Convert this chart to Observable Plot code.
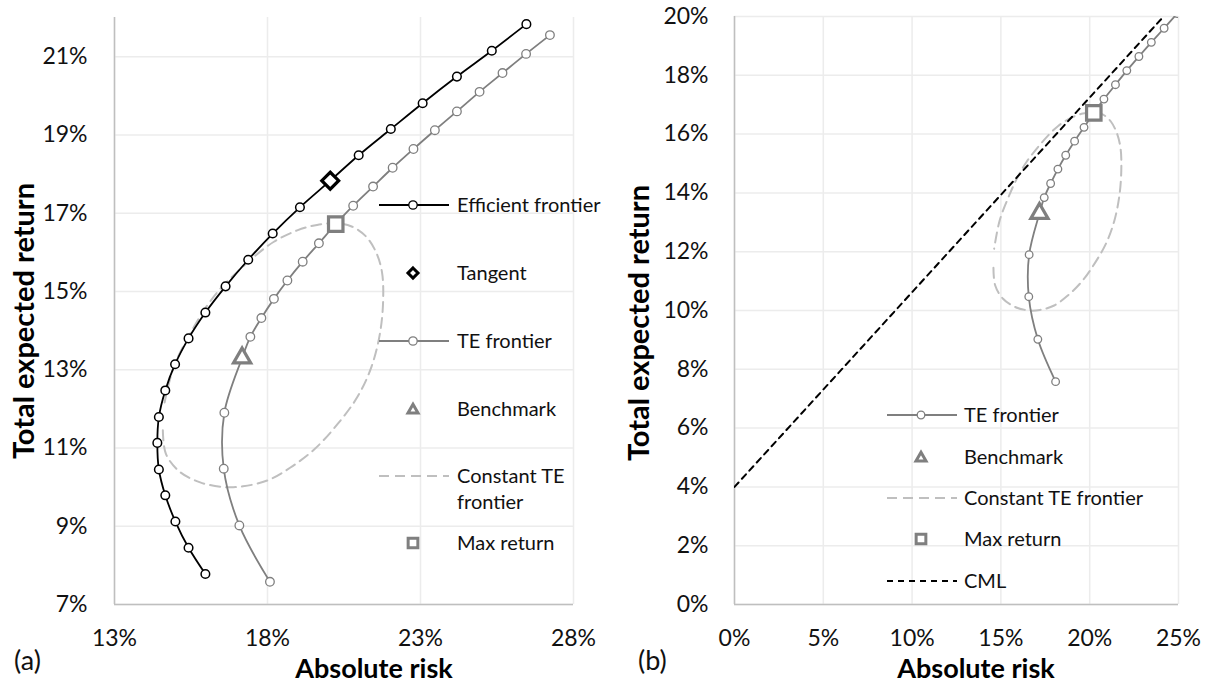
<!DOCTYPE html>
<html><head><meta charset="utf-8">
<script src="https://cdn.jsdelivr.net/npm/d3@7"></script>
<script src="https://cdn.jsdelivr.net/npm/@observablehq/plot@0.6"></script>
<style>
body{margin:0;background:#fff;}
#wrap{position:relative;width:1212px;height:684px;overflow:hidden;font-family:Lato,sans-serif;}
.panel{position:absolute;top:0;}
.panel svg{overflow:visible;}
#overlay{position:absolute;left:0;top:0;pointer-events:none;}
</style></head><body><div id="wrap"></div>
<script>
// ---------- data (percent) ----------
const efRisk = [15.97,15.42,14.99,14.66,14.45,14.40,14.45,14.66,14.98,15.42,15.97,16.63,17.37,18.17,19.06,20.05,20.98,22.03,23.07,24.19,25.33,26.46];
const efReturn = [7.78,8.45,9.12,9.79,10.45,11.13,11.79,12.47,13.14,13.80,14.46,15.13,15.81,16.48,17.15,17.83,18.48,19.15,19.81,20.49,21.15,21.83];

const teRisk = [18.08,17.08,16.57,16.59,17.17,17.44,17.80,18.21,18.65,19.15,19.68,20.22,20.80,21.45,22.09,22.77,23.47,24.19,24.93,25.68,26.45,27.23];
const teReturn = [7.58,9.02,10.47,11.90,13.30,13.84,14.32,14.81,15.28,15.76,16.23,16.71,17.19,17.68,18.16,18.64,19.12,19.60,20.10,20.58,21.07,21.55];

const cteRisk = [14.58,14.68,15.12,15.80,16.60,17.20,18.00,18.75,19.55,20.30,20.95,21.40,21.68,21.78,21.74,21.55,21.20,20.75,20.23,19.62,18.97,18.21,17.55,17.01,16.46,15.95,15.48,14.93,14.62];
const cteReturn = [11.45,10.85,10.40,10.12,10.00,10.02,10.17,10.50,10.98,11.62,12.32,13.08,13.95,14.80,15.50,16.00,16.42,16.66,16.74,16.70,16.56,16.27,15.88,15.50,15.07,14.55,13.93,13.06,12.10];

const tangentRisk = [20.05], tangentReturn = [17.83];
const benchRisk = [17.17], benchReturn = [13.30];
const maxRisk = [20.23], maxReturn = [16.72];
const cmlRisk = [0, 24.16], cmlReturn = [4, 20];

const leftXTicks = [13,18,23,28];
const leftYTicks = [7,9,11,13,15,17,19,21];
const rightXTicks = [0,5,10,15,20,25];
const rightYTicks = [0,2,4,6,8,10,12,14,16,18,20];

const leftLegend = ["Efficient frontier","Tangent","TE frontier","Benchmark","Constant TE|frontier","Max return"];
const rightLegend = ["TE frontier","Benchmark","Constant TE frontier","Max return","CML"];
const xTitle = "Absolute risk";
const yTitle = "Total expected return";
const panelTags = ["(a)","(b)"];

// ---------- build tables ----------
const zip = (xs, ys) => xs.map((x, i) => ({risk: x, ret: ys[i]}));
const ef = zip(efRisk, efReturn);
const te = zip(teRisk, teReturn);
const cte = zip(cteRisk, cteReturn);
const tangent = zip(tangentRisk, tangentReturn);
const bench = zip(benchRisk, benchReturn);
const maxr = zip(maxRisk, maxReturn);
const cml = zip(cmlRisk, cmlReturn);

const GRAY = "#7f7f7f", LIGHT = "#bfbfbf", GRID = "#ececec", AXIS = "#bfbfbf";
const FONT = "Lato, sans-serif";
const pct = d => d + "%";

function frame(xTicks, yTicks, xMin, yMin, padY) {
  return [
    Plot.gridX(xTicks, {stroke: GRID, strokeOpacity: 1, strokeWidth: 1.5}),
    Plot.gridY(yTicks, {stroke: GRID, strokeOpacity: 1, strokeWidth: 1.5}),
    Plot.ruleX([xMin], {stroke: AXIS, strokeWidth: 1.5}),
    Plot.ruleY([yMin], {stroke: AXIS, strokeWidth: 1.5}),
    Plot.axisX(xTicks, {tickSize: 0, tickPadding: 25, tickFormat: pct, fontSize: 23, fill: "#111", label: null}),
    Plot.axisY(yTicks, {tickSize: 0, tickPadding: padY, tickFormat: pct, fontSize: 23, fill: "#111", label: null})
  ];
}

const left = Plot.plot({
  width: 610, height: 684,
  marginLeft: 114, marginRight: 37, marginTop: 17, marginBottom: 80,
  style: {fontFamily: FONT, fontSize: "23px", background: "transparent", overflow: "visible"},
  x: {domain: [13, 28], label: null},
  y: {domain: [7, 22], label: null},
  marks: [
    ...frame(leftXTicks, leftYTicks, 13, 7, 27),
    Plot.line(cte, {x: "risk", y: "ret", curve: "catmull-rom", stroke: LIGHT, strokeWidth: 2, strokeDasharray: "10,6"}),
    Plot.line(ef, {x: "risk", y: "ret", curve: "catmull-rom", stroke: "#000", strokeWidth: 1.8}),
    Plot.dot(ef, {x: "risk", y: "ret", r: 4.3, fill: "#fff", stroke: "#000", strokeWidth: 1.5}),
    Plot.line(te, {x: "risk", y: "ret", curve: "catmull-rom", stroke: GRAY, strokeWidth: 1.8}),
    Plot.dot(te, {x: "risk", y: "ret", r: 4.3, fill: "#fff", stroke: GRAY, strokeWidth: 1.3}),
    Plot.dot(tangent, {x: "risk", y: "ret", symbol: "diamond2", r: 7.6, fill: "#fff", stroke: "#000", strokeWidth: 3.2}),
    Plot.dot(bench, {x: "risk", y: "ret", symbol: "triangle2", r: 8.2, fill: "#fff", stroke: GRAY, strokeWidth: 3.2}),
    Plot.dot(maxr, {x: "risk", y: "ret", symbol: "square2", r: 9.2, fill: "#fff", stroke: GRAY, strokeWidth: 3.2})
  ]
});

const right = Plot.plot({
  width: 602, height: 684,
  marginLeft: 124, marginRight: 34, marginTop: 16, marginBottom: 80,
  style: {fontFamily: FONT, fontSize: "23px", background: "transparent", overflow: "visible"},
  x: {domain: [0, 25], label: null},
  y: {domain: [0, 20], label: null},
  marks: [
    ...frame(rightXTicks, rightYTicks, 0, 0, 26),
    Plot.line(cte, {x: "risk", y: "ret", curve: "catmull-rom", stroke: LIGHT, strokeWidth: 2, strokeDasharray: "10,6", clip: true}),
    Plot.line(cml, {x: "risk", y: "ret", stroke: "#000", strokeWidth: 2, strokeDasharray: "6,5", clip: true}),
    Plot.line(te, {x: "risk", y: "ret", curve: "catmull-rom", stroke: GRAY, strokeWidth: 1.8, clip: true}),
    Plot.dot(te, {x: "risk", y: "ret", r: 3.8, fill: "#fff", stroke: GRAY, strokeWidth: 1.3, clip: true}),
    Plot.dot(bench, {x: "risk", y: "ret", symbol: "triangle2", r: 8.2, fill: "#fff", stroke: GRAY, strokeWidth: 3.2}),
    Plot.dot(maxr, {x: "risk", y: "ret", symbol: "square2", r: 9.2, fill: "#fff", stroke: GRAY, strokeWidth: 3.2})
  ]
});

const wrap = document.getElementById("wrap");
const pl = document.createElement("div"); pl.className = "panel"; pl.style.left = "0px"; pl.appendChild(left); wrap.appendChild(pl);
const pr = document.createElement("div"); pr.className = "panel"; pr.style.left = "610px"; pr.appendChild(right); wrap.appendChild(pr);

// ---------- overlay: titles, tags, legends ----------
const ov = d3.select(wrap).append("svg").attr("id", "overlay").attr("width", 1212).attr("height", 684)
  .style("font-family", FONT);

function ytitle(x, y) {
  ov.append("text").attr("transform", `translate(${x},${y}) rotate(-90)`).attr("text-anchor", "middle")
    .attr("font-size", 29).attr("font-weight", 700).attr("fill", "#000").text(yTitle);
}
function xtitle(x, y) {
  ov.append("text").attr("x", x).attr("y", y).attr("text-anchor", "middle")
    .attr("font-size", 27).attr("font-weight", 700).attr("fill", "#000").text(xTitle);
}
ytitle(34, 321); ytitle(649, 323);
xtitle(374, 677.5); xtitle(976, 677.5);
ov.append("text").attr("x", 14).attr("y", 670).attr("font-size", 27).attr("fill", "#111").text(panelTags[0]);
ov.append("text").attr("x", 638).attr("y", 670).attr("font-size", 27).attr("fill", "#111").text(panelTags[1]);

function symbolAt(g, type, cx, cy, size, stroke, sw) {
  g.append("path").attr("transform", `translate(${cx},${cy})`)
    .attr("d", d3.symbol(type, size)()).attr("fill", "#fff").attr("stroke", stroke).attr("stroke-width", sw);
}
function legendItem(kind, label, x0, x1, cx, tx, cy, cr) {
  const g = ov.append("g");
  if (kind === "ef" || kind === "te") {
    const col = kind === "ef" ? "#000" : GRAY;
    g.append("line").attr("x1", x0).attr("x2", x1).attr("y1", cy).attr("y2", cy).attr("stroke", col).attr("stroke-width", 1.8);
    g.append("circle").attr("cx", cx).attr("cy", cy).attr("r", cr).attr("fill", "#fff").attr("stroke", col).attr("stroke-width", 1.3);
  } else if (kind === "tan") {
    symbolAt(g, d3.symbolDiamond2, cx, cy, 64, "#000", 3);
  } else if (kind === "bench") {
    symbolAt(g, d3.symbolTriangle2, cx, cy + 1, 72, GRAY, 3);
  } else if (kind === "max") {
    symbolAt(g, d3.symbolSquare2, cx, cy, 120, GRAY, 3);
  } else if (kind === "cte") {
    g.append("line").attr("x1", x0).attr("x2", x1).attr("y1", cy).attr("y2", cy).attr("stroke", LIGHT).attr("stroke-width", 2).attr("stroke-dasharray", "10,6");
  } else if (kind === "cml") {
    g.append("line").attr("x1", x0).attr("x2", x1).attr("y1", cy).attr("y2", cy).attr("stroke", "#000").attr("stroke-width", 2).attr("stroke-dasharray", "6,5");
  }
  const lines = label.split("|");
  lines.forEach((s, i) => {
    g.append("text").attr("x", tx).attr("y", cy + 7 + i * 26).attr("font-size", 20).attr("fill", "#111").text(s);
  });
}
const leftKinds = ["ef","tan","te","bench","cte","max"];
const leftRows = [205, 273, 341, 409, 476, 543];
leftKinds.forEach((k, i) => legendItem(k, leftLegend[i], 379, 449, 413, 457, leftRows[i], 4.2));
const rightKinds = ["te","bench","cte","max","cml"];
const rightRows = [415, 457, 498, 539, 581];
rightKinds.forEach((k, i) => legendItem(k, rightLegend[i], 887, 957, 921, 964, rightRows[i], 3.8));
</script></body></html>
